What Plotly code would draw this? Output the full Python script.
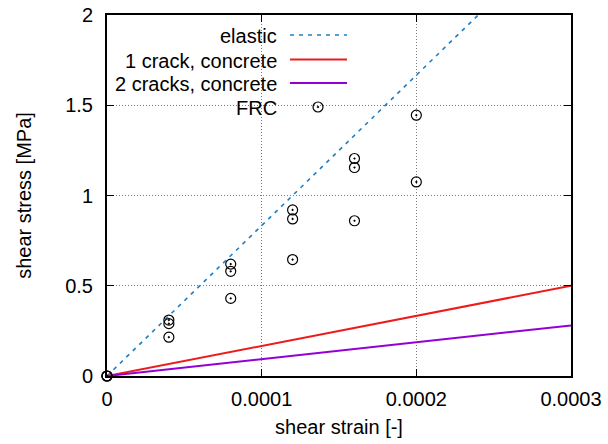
import plotly.graph_objects as go

# Shear strain / shear stress data
strain_lines = [0.0, 0.0003]
tau_elastic = [0.0, 2.5]
tau_1crack = [0.0, 0.5]
tau_2cracks = [0.0, 0.28]

frc_strain = [0.0, 0.0, 0.0,
              0.00004, 0.00004, 0.00004,
              0.00008, 0.00008, 0.00008,
              0.00012, 0.00012, 0.00012,
              0.00016, 0.00016, 0.00016,
              0.0002, 0.0002]
frc_stress = [0.0, 0.0, 0.0,
              0.31, 0.29, 0.215,
              0.62, 0.58, 0.43,
              0.92, 0.87, 0.645,
              1.205, 1.155, 0.86,
              1.445, 1.075]

x_ticks = [0, 0.0001, 0.0002, 0.0003]
x_ticktext = ["0", "0.0001", "0.0002", "0.0003"]
y_ticks = [0, 0.5, 1, 1.5, 2]
y_ticktext = ["0", "0.5", "1", "1.5", "2"]

legend_names = ["elastic", "1 crack, concrete", "2 cracks, concrete", "FRC"]

C_ELASTIC = "#1a7fc8"
C_1CRACK = "#ec1c1c"
C_2CRACKS = "#9400d3"

W, H = 608, 444
ML, MR, MT, MB = 107, 37, 15, 68
PW, PH = W - ML - MR, H - MT - MB
FONT = dict(family="Liberation Sans, Arial, sans-serif", size=20, color="black")


def px_x(px):
    return (px - ML) / PW


def px_y(py):
    return (H - MB - py) / PH


fig = go.Figure()
fig.add_trace(go.Scatter(x=strain_lines, y=tau_elastic, mode="lines",
                         line=dict(color=C_ELASTIC, width=1.6, dash="4px,5px"),
                         name=legend_names[0], showlegend=False))
fig.add_trace(go.Scatter(x=strain_lines, y=tau_1crack, mode="lines",
                         line=dict(color=C_1CRACK, width=2),
                         name=legend_names[1], showlegend=False))
fig.add_trace(go.Scatter(x=strain_lines, y=tau_2cracks, mode="lines",
                         line=dict(color=C_2CRACKS, width=2),
                         name=legend_names[2], showlegend=False))
fig.add_trace(go.Scatter(x=frc_strain, y=frc_stress, mode="markers",
                         marker=dict(symbol="circle-open-dot", size=10,
                                     color="black", line=dict(color="black", width=1.2)),
                         cliponaxis=False, name=legend_names[3], showlegend=False))

# Key box: right-aligned labels with samples to their right
shapes = [dict(type="rect", xref="paper", yref="paper",
               x0=px_x(ML + 2), x1=px_x(356), y0=px_y(118), y1=px_y(MT + 2),
               fillcolor="white", line=dict(width=0), layer="between")]
annotations = []
rows = [36, 60.5, 84, 108]
styles = [dict(color=C_ELASTIC, width=1.6, dash="4px,5px"),
          dict(color=C_1CRACK, width=2),
          dict(color=C_2CRACKS, width=2)]
for name, ry in zip(legend_names, rows):
    annotations.append(dict(text=name, xref="paper", yref="paper",
                            x=px_x(279), y=px_y(ry), xanchor="right", yanchor="middle",
                            showarrow=False, font=FONT))
for st, ry in zip(styles, rows[:3]):
    shapes.append(dict(type="line", xref="paper", yref="paper",
                       x0=px_x(290), x1=px_x(347), y0=px_y(ry - 1), y1=px_y(ry - 1),
                       line=st, layer="above"))
# FRC sample symbol
shapes.append(dict(type="circle", xref="paper", yref="paper",
                   xsizemode="pixel", ysizemode="pixel",
                   xanchor=px_x(318), yanchor=px_y(rows[3] - 1),
                   x0=-5, x1=5, y0=-5, y1=5,
                   line=dict(color="black", width=1.2), layer="above"))
shapes.append(dict(type="circle", xref="paper", yref="paper",
                   xsizemode="pixel", ysizemode="pixel",
                   xanchor=px_x(318), yanchor=px_y(rows[3] - 1),
                   x0=-0.9, x1=0.9, y0=-0.9, y1=0.9,
                   fillcolor="black", line=dict(color="black", width=0.5), layer="above"))

axis_common = dict(showline=True, linecolor="black", linewidth=2, mirror="ticks",
                   ticks="inside", ticklen=7, tickwidth=1, tickcolor="black",
                   showgrid=True, gridcolor="#7a7a7a", gridwidth=1, griddash="1px,2px",
                   zeroline=False, tickfont=FONT)

fig.update_layout(
    width=W, height=H,
    margin=dict(l=ML, r=MR, t=MT, b=MB, autoexpand=False),
    paper_bgcolor="white", plot_bgcolor="white",
    font=FONT,
    showlegend=False,
    xaxis=dict(range=[0, 0.0003], tickvals=x_ticks, ticktext=x_ticktext,
               ticklabelstandoff=4,
               title=dict(text="shear strain [-]", font=FONT, standoff=11),
               **axis_common),
    yaxis=dict(range=[0, 2], tickvals=y_ticks, ticktext=y_ticktext,
               ticklabelstandoff=8,
               title=dict(text="shear stress [MPa]", font=FONT, standoff=28),
               **axis_common),
    shapes=shapes,
    annotations=annotations,
)

fig.write_html("out.html")
